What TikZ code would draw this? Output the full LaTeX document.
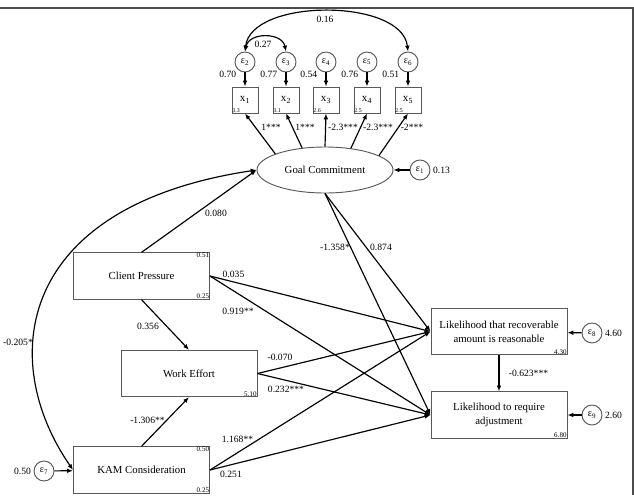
\documentclass[tikz,border=0pt]{standalone}
\usepackage{fontspec}
\setmainfont{Liberation Serif}
\usetikzlibrary{shapes.geometric, arrows.meta, positioning}
\tikzset{
    obsvar/.style={
        rectangle, draw=black!65, line width=0.8pt,
        minimum width=4.08cm, minimum height=1.39cm,
        fill=white, align=center, font=\fontsize{9.2}{12}\selectfont
    },
    latvar/.style={
        ellipse, draw=black!65, line width=0.8pt,
        minimum width=4.08cm, minimum height=1.38cm,
        fill=white, font=\fontsize{9.2}{12}\selectfont
    },
    ind/.style={
        rectangle, draw=black!65, line width=0.8pt,
        minimum size=0.78cm, inner sep=0pt,
        fill=white, font=\fontsize{9.5}{11}\selectfont
    },
    errvar/.style={
        circle, draw=black!65, line width=0.8pt,
        minimum size=0.6cm, inner sep=0pt,
        fill=white, font=\fontsize{8.5}{10}\selectfont
    },
    effect/.style={draw=black, line width=1pt, -{Latex[length=5pt,width=4pt]}},
    covar/.style={draw=black, line width=1pt,
        {Latex[length=5pt,width=4pt]}-{Latex[length=5pt,width=4pt]}},
    coef/.style={font=\fontsize{8.2}{9}\selectfont, inner sep=1pt},
    stat/.style={font=\fontsize{6}{6}\selectfont, inner sep=0.6pt},
    smallstat/.style={font=\fontsize{5}{5}\selectfont, inner sep=0.6pt}
}

\begin{document}
\begin{tikzpicture}[x=0.03cm, y=-0.03cm]
\useasboundingbox (0,0) rectangle (634,495);

% frame
\draw[black!70, line width=1.2pt] (0,8) -- (633,8) -- (633,495);

% measurement part
\node[latvar] (gc) at (325,170) {Goal Commitment};

\node[ind] (x1) at (245,100) {x\textsubscript{1}};
\node[ind] (x2) at (286,100) {x\textsubscript{2}};
\node[ind] (x3) at (326,100) {x\textsubscript{3}};
\node[ind] (x4) at (367,100) {x\textsubscript{4}};
\node[ind] (x5) at (408,100) {x\textsubscript{5}};

\node[smallstat, anchor=south west] (m1) at (x1.south west) {3.3};
\node[smallstat, anchor=south west] (m2) at (x2.south west) {3.1};
\node[smallstat, anchor=south west] (m3) at (x3.south west) {2.6};
\node[smallstat, anchor=south west] (m4) at (x4.south west) {2.5};
\node[smallstat, anchor=south west] (m5) at (x5.south west) {2.5};

\node[errvar] (e1) at (420,170) {ε\textsubscript{1}};
\node[errvar] (e2) at (245,62) {ε\textsubscript{2}};
\node[errvar] (e3) at (286,62) {ε\textsubscript{3}};
\node[errvar] (e4) at (326,62) {ε\textsubscript{4}};
\node[errvar] (e5) at (367,62) {ε\textsubscript{5}};
\node[errvar] (e6) at (408,62) {ε\textsubscript{6}};

\node[coef, anchor=north east] (v2) at (e2.south west) {0.70};
\node[coef, anchor=north east] (v3) at (e3.south west) {0.77};
\node[coef, anchor=north east] (v4) at (e4.south west) {0.54};
\node[coef, anchor=north east] (v5) at (e5.south west) {0.76};
\node[coef, anchor=north east] (v6) at (e6.south west) {0.51};
\node[coef, right=1pt of e1] (v1) {0.13};

\draw[effect] (e2) -- (x1);
\draw[effect] (e3) -- (x2);
\draw[effect] (e4) -- (x3);
\draw[effect] (e5) -- (x4);
\draw[effect] (e6) -- (x5);
\draw[effect] (e1) -- (gc);

\draw[effect] (gc.162) -- (x1.south);
\draw[effect] (gc.136) -- (x2.south);
\draw[effect] (gc.90) -- (x3.south);
\draw[effect] (gc.40) -- (x4.south);
\draw[effect] (gc.15) -- (x5.south);

\node[coef] (l1) at (271,127) {1***};
\node[coef] (l2) at (305,127) {1***};
\node[coef] (l3) at (343,127) {-2.3***};
\node[coef] (l4) at (378,127) {-2.3***};
\node[coef] (l5) at (412,127) {-2***};

\draw[covar] (e2.north) .. controls (249,32) and (282,32) .. (e3.north);
\draw[covar] (e2.north) .. controls (251,-2) and (402,-2) .. (e6.north);
\node[coef] (c23) at (263,44) {0.27};
\node[coef] (c26) at (325,19) {0.16};

% structural part
\node[obsvar] (cp) at (141.5,276) {Client Pressure};
\node[obsvar] (we) at (189,373.5) {Work Effort};
\node[obsvar] (kam) at (141.5,470) {KAM Consideration};
\node[obsvar] (lr) at (499,331.5) {Likelihood that recoverable\\amount is reasonable};
\node[obsvar] (la) at (499,415) {Likelihood to require\\adjustment};

\node[stat, anchor=north east] (cpa) at (cp.north east) {0.51};
\node[stat, anchor=south east] (cpb) at (cp.south east) {0.25};
\node[stat, anchor=south east] (web) at (we.south east) {5.10};
\node[stat, anchor=north east] (kama) at (kam.north east) {0.50};
\node[stat, anchor=south east] (kamb) at (kam.south east) {0.25};
\node[stat, anchor=south east] (lrb) at (lr.south east) {4.30};
\node[stat, anchor=south east] (lab) at (la.south east) {6.80};

\node[errvar] (e7) at (44,471) {ε\textsubscript{7}};
\node[errvar] (e8) at (592,333) {ε\textsubscript{8}};
\node[errvar] (e9) at (592,415) {ε\textsubscript{9}};
\node[coef, left=1pt of e7] (v7) {0.50};
\node[coef, right=1pt of e8] (v8) {4.60};
\node[coef, right=1pt of e9] (v9) {2.60};

\draw[effect] (e7) -- (kam);
\draw[effect] (e8) -- (lr);
\draw[effect] (e9) -- (la);

\draw[effect] (cp.north) -- (gc.west);
\draw[effect] (cp.south) -- (we.north);
\draw[effect] (kam.north) -- (we.south);
\draw[effect] (cp.east) -- (lr.west);
\draw[effect] (cp.east) -- (la.west);
\draw[effect] (we.east) -- (lr.west);
\draw[effect] (we.east) -- (la.west);
\draw[effect] (kam.east) -- (lr.west);
\draw[effect] (kam.east) -- (la.west);
\draw[effect] (gc.south) -- (lr.west);
\draw[effect] (gc.south) -- (la.west);
\draw[effect] (lr) -- (la);

% covariance, routed round the left side
\draw[covar] (kam.west) .. controls (-3,360) and (16,206) .. (gc.west);

\node[coef] (b1) at (216,213) {0.080};
\node[coef] (b2) at (233.5,274) {0.035};
\node[coef] (b3) at (238,311) {0.919**};
\node[coef] (b4) at (148,326) {0.356};
\node[coef] (b5) at (280,357) {-0.070};
\node[coef] (b6) at (286,389) {0.232***};
\node[coef] (b7) at (147.5,420) {-1.306**};
\node[coef] (b8) at (237.5,439) {1.168**};
\node[coef] (b9) at (231,474) {0.251};
\node[coef] (b10) at (335,247) {-1.358*};
\node[coef] (b11) at (381,247) {0.874};
\node[coef] (b12) at (528.5,373) {-0.623***};
\node[coef] (b13) at (18,342) {-0.205*};

\end{tikzpicture}
\end{document}
